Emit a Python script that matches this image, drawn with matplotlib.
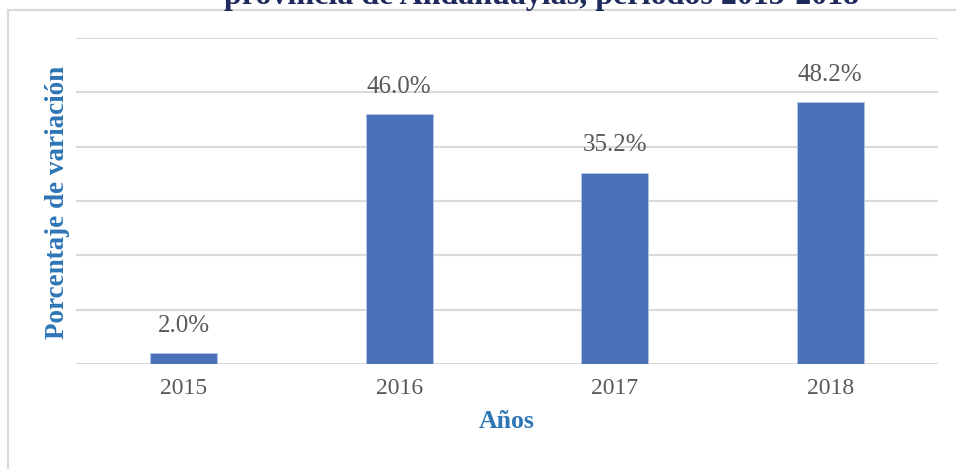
import matplotlib.pyplot as plt
from matplotlib.lines import Line2D

years = ['2015', '2016', '2017', '2018']
variacion = [2.0, 46.0, 35.2, 48.2]
etiquetas = ['2.0%', '46.0%', '35.2%', '48.2%']

plt.rcParams['font.family'] = ['Liberation Serif', 'DejaVu Serif']

fig = plt.figure(figsize=(9.56, 4.69), dpi=100)
ax = fig.add_axes([0.0795, 0.2239, 0.9015, 0.6951])

# chart border: only left and top edges are inside the picture
bx, by = 8 / 956, 1 - 10 / 469
fig.lines.append(Line2D([bx, bx], [0, by], transform=fig.transFigure,
                        color='#d9d9d9', linewidth=1.5))
fig.lines.append(Line2D([bx, 1], [by, by], transform=fig.transFigure,
                        color='#d9d9d9', linewidth=1.5))

x = range(len(years))
bars = ax.bar(x, variacion, width=0.31, color='#4a72b8',
              edgecolor='#b4c7e7', linewidth=0.6, zorder=3)

for xi, v, lab in zip(x, variacion, etiquetas):
    ax.text(xi, v + 3.0, lab, ha='center', va='bottom',
            fontsize=18, color='#595959')

ax.set_xlim(-0.5, 3.5)
ax.set_ylim(0, 60)
ax.set_yticks(range(0, 61, 10))
ax.set_yticklabels([])
ax.tick_params(axis='y', length=0)
ax.set_xticks(list(x))
ax.set_xticklabels(years, fontsize=17, color='#595959')
ax.tick_params(axis='x', length=0, pad=10)
ax.grid(axis='y', color='#d9d9d9', linewidth=1.5, zorder=0)
for s in ax.spines.values():
    s.set_visible(False)

ax.set_xlabel('Años', fontsize=18.5, fontweight='bold', color='#2e75b6',
              labelpad=8)
fig.text(57 / 956, (469 - 202) / 469, 'Porcentaje de variación', rotation=90,
         ha='center', va='center', fontsize=19.5, fontweight='bold',
         color='#2e75b6')

fig.text(542 / 956, 1 - 4 / 469,
         'provincia de Andahuaylas, periodos 2015-2018',
         ha='center', va='baseline', fontsize=23, fontweight='bold',
         color='#1f2a5c')

fig.savefig('out.png', dpi=100)
